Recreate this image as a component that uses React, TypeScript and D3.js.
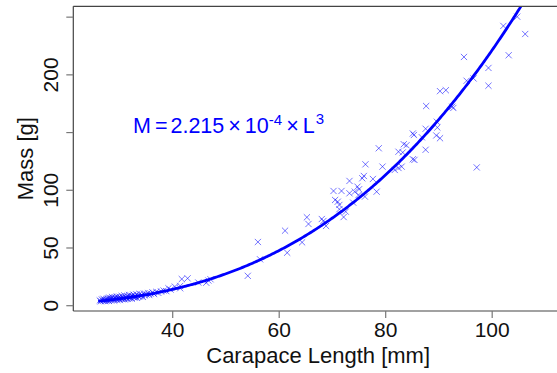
import React from "react";
import * as d3 from "d3";

// Small animals: carapace length [mm] and mass [g]
const smallL: number[] = [
  26.3, 26.5, 26.7, 26.9, 27.0, 27.2, 27.3, 27.5, 27.6, 27.8, 27.9, 28.0, 28.1, 28.3, 28.4, 28.5, 28.6, 28.8, 28.9, 29.0,
  29.1, 29.3, 29.4, 29.5, 29.6, 29.8, 29.9, 30.0, 30.1, 30.3, 30.4, 30.5, 30.7, 30.8, 30.9, 31.0, 31.2, 31.3, 31.4, 31.6,
  31.7, 31.8, 31.9, 32.1, 32.2, 32.3, 32.5, 32.6, 32.8, 32.9, 33.0, 33.2, 33.3, 33.5, 33.7, 33.8, 34.0, 34.2, 34.4, 34.6,
  34.8, 35.1, 35.4, 35.6, 35.9, 36.2, 36.5, 36.9, 37.3, 37.8, 38.3, 38.8, 39.2, 39.6, 40.4, 41.4, 41.4,
];
const smallM: number[] = [
  4.5, 3.8, 5.4, 4.2, 6.0, 4.9, 3.9, 5.8, 4.4, 6.5, 5.0, 4.1, 7.0, 5.6, 4.6, 6.4, 7.6, 5.2, 6.0, 4.5,
  7.2, 5.7, 6.6, 8.0, 5.0, 6.9, 5.9, 7.8, 4.9, 6.4, 8.4, 5.6, 7.3, 6.1, 8.9, 5.4, 7.0, 6.3, 8.2, 5.9,
  7.7, 9.3, 6.6, 7.3, 8.7, 6.0, 7.9, 9.6, 6.9, 8.4, 7.4, 9.9, 6.8, 8.6, 7.7, 10.2, 8.2, 9.4, 7.6, 10.5,
  8.9, 9.7, 11.0, 9.2, 10.4, 11.6, 10.1, 12.0, 11.1, 12.4, 13.1, 12.6, 15.1, 14.0, 16.5, 17.1, 15.1,
];

// Larger animals: carapace length [mm] and mass [g]
const largeL: number[] = [
  41.7, 42.8, 44.8, 46.3, 46.7, 47.1, 54.1, 56.0, 56.4, 61.1, 61.5, 64.3, 65.2, 65.5, 68.0,
  68.3, 68.8, 70.2, 71.7, 70.5, 71.0, 71.3, 71.3, 72.5, 72.1, 73.2, 73.2, 74.2, 74.9, 73.9, 74.7, 75.0, 75.6, 75.9, 76.2,
  76.1, 77.6, 78.3, 78.7, 79.4, 81.7, 82.4, 82.4, 83.2, 83.4, 83.9, 83.0, 85.1, 85.3, 85.1, 85.4, 86.8, 87.5, 87.5, 87.6,
  89.5, 89.6, 89.7, 90.2, 90.2, 91.3, 92.5, 92.7, 94.7, 95.2, 96.5, 97.1, 99.3, 99.3, 102.1, 103.1, 104.7, 106.2,
];
const largeM: number[] = [
  23.1, 23.7, 20.1, 19.9, 21.8, 22.9, 25.9, 55.2, 40.2, 65.0, 45.9, 54.9, 76.6, 70.8, 75.1,
  73.4, 69.1, 99.4, 99.4, 91.6, 90.1, 87.3, 83.6, 81.5, 76.8, 108.1, 97.4, 98.8, 95.9, 89.3, 103.1, 100.9, 110.4, 112.4, 122.5,
  94.5, 109.8, 98.8, 136.4, 120.5, 117.6, 119.3, 133.4, 132.8, 139.9, 139.0, 120.5, 149.2, 147.9, 126.9, 126.3, 145.9, 135.1, 153.3, 173.0,
  147.5, 159.4, 154.4, 145.1, 185.9, 186.7, 172.4, 171.3, 215.5, 194.9, 196.9, 119.8, 206.0, 190.6, 242.4, 217.0, 250.4, 235.4,
];

// Fitted model M = a * L^b (as printed on the chart)
const fitCoef = 2.215e-4;
const fitExponent = 3;
const fitRange: [number, number] = [26, 110];

const xTicks: number[] = [40, 60, 80, 100];
const yTicks: number[] = [0, 50, 100, 150, 200, 250];
const yTickLabels: number[] = [0, 50, 100, 200];

const xTitle = "Carapace Length [mm]";
const yTitle = "Mass [g]";

const W = 557;
const H = 373;
const left = 73.3;
const right = 563;
const top = 6.3;
const bottom = 311;

export default function App() {
  const x = d3.scaleLinear().domain([21.33, 113.3]).range([left, right]);
  const y = d3.scaleLinear().domain([-4.59, 259.4]).range([bottom, top]);

  const allL = smallL.concat(largeL);
  const allM = smallM.concat(largeM);

  const curveL = d3.range(fitRange[0], fitRange[1] + 0.001, 0.25);
  const line = d3
    .line<number>()
    .x((l) => x(l))
    .y((l) => y(fitCoef * Math.pow(l, fitExponent)))
    .curve(d3.curveLinear);

  const font = "'Liberation Sans', Arial, Helvetica, sans-serif";
  const axisColor = "#444";
  const tickColor = "#777";
  const s = 3.1;

  return (
    <svg
      width={W}
      height={H}
      style={{ position: "absolute", left: 0, top: 0, background: "#fff" }}
      fontFamily={font}
    >
      <defs>
        <clipPath id="plotclip">
          <rect x={left} y={top} width={right - left} height={bottom - top} />
        </clipPath>
      </defs>

      {/* points */}
      <g clipPath="url(#plotclip)" stroke="rgba(0,0,255,0.55)" strokeWidth={1} fill="none">
        {allL.map((l, i) => {
          const cx = x(l);
          const cy = y(allM[i]);
          return (
            <path
              key={i}
              d={`M${cx - s},${cy - s}L${cx + s},${cy + s}M${cx - s},${cy + s}L${cx + s},${cy - s}`}
            />
          );
        })}
      </g>

      {/* fitted curve */}
      <path
        clipPath="url(#plotclip)"
        d={line(curveL) || ""}
        fill="none"
        stroke="#0000ff"
        strokeWidth={2.8}
      />

      {/* box */}
      <path
        d={`M${left},${top}H${right}M${left},${top}V${bottom}M${left},${bottom}H${right}`}
        stroke={axisColor}
        strokeWidth={1.2}
        fill="none"
      />

      {/* x axis ticks */}
      {xTicks.map((t) => (
        <g key={t}>
          <line x1={x(t)} x2={x(t)} y1={bottom} y2={bottom + 7} stroke={tickColor} strokeWidth={1.2} />
          <text x={x(t)} y={337} textAnchor="middle" fontSize={21} fill="#111">
            {t}
          </text>
        </g>
      ))}
      {/* y axis ticks */}
      {yTicks.map((t) => (
        <line key={t} x1={left - 7} x2={left} y1={y(t)} y2={y(t)} stroke={tickColor} strokeWidth={1.2} />
      ))}
      {yTickLabels.map((t) => (
        <text
          key={t}
          transform={`translate(58,${y(t)}) rotate(-90)`}
          textAnchor="middle"
          fontSize={21}
          fill="#111"
        >
          {t}
        </text>
      ))}

      {/* axis titles */}
      <text x={(left + right) / 2} y={363} textAnchor="middle" fontSize={22} fill="#111">
        {xTitle}
      </text>
      <text
        transform={`translate(33,${(top + bottom) / 2}) rotate(-90)`}
        textAnchor="middle"
        fontSize={22}
        fill="#111"
      >
        {yTitle}
      </text>

      {/* equation */}
      <text x={133} y={133} fontSize={21.5} fill="#0000ff">
        <tspan>M</tspan>
        <tspan dx={4}>=</tspan>
        <tspan dx={3}>2.215</tspan>
        <tspan dx={4}>×</tspan>
        <tspan dx={4}>10</tspan>
        <tspan dy={-8} fontSize={15}>-4</tspan>
        <tspan dy={8} dx={4}>×</tspan>
        <tspan dx={4}>L</tspan>
        <tspan dy={-9} dx={1} fontSize={15}>3</tspan>
      </text>
    </svg>
  );
}
